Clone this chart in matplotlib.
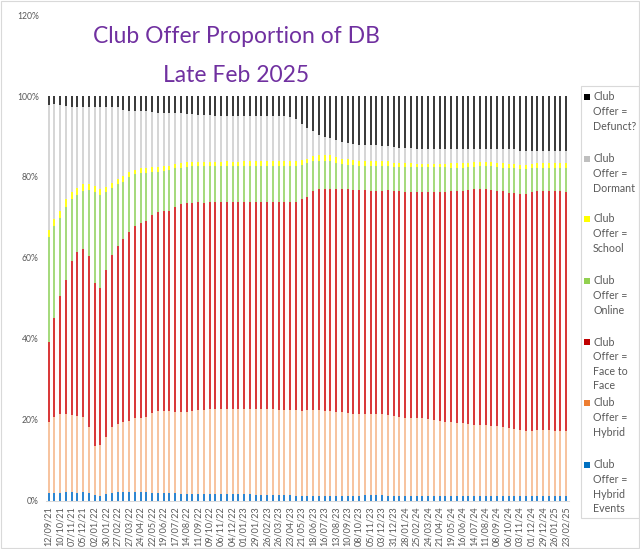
import numpy as np
import matplotlib
matplotlib.use("Agg")
import matplotlib.pyplot as plt
from matplotlib.patches import Rectangle

plt.rcParams['font.family'] = ['Lato', 'DejaVu Sans']

# ---- data (percent of DB per fortnight, 12/09/21 .. 23/02/25) ----
hybrid_events = [1.8, 1.8, 1.9, 2.0, 2.0, 1.9, 2.0, 1.8, 1.4, 1.2, 1.5, 1.9, 2.0, 2.1, 2.1, 2.1, 2.0, 2.0, 1.9, 1.9,
                 1.8, 1.8, 1.8, 1.7, 1.7, 1.7, 1.6, 1.6, 1.6, 1.6, 1.6, 1.5, 1.5, 1.5, 1.5, 1.5, 1.4, 1.4, 1.4, 1.4,
                 1.4, 1.3, 1.3, 1.2, 1.2, 1.2, 1.2, 1.2, 1.2, 1.2, 1.2, 1.2, 1.2, 1.2, 1.2, 1.3, 1.4, 1.4, 1.3, 1.2,
                 1.2, 1.2, 1.2, 1.2, 1.2, 1.1, 1.1, 1.1, 1.1, 1.1, 1.1, 1.1, 1.1, 1.1, 1.0, 1.0, 1.0, 1.0, 1.0, 1.0,
                 1.0, 1.0, 1.0, 1.0, 1.0, 1.0, 1.0, 1.0, 1.0, 1.0, 1.0]
hybrid = [17.5, 18.9, 19.4, 19.4, 19.1, 19.0, 18.7, 16.4, 12.1, 12.5, 14.1, 16.2, 16.9, 17.4, 17.6, 18.2, 18.5, 18.7, 19.8, 20.2,
          20.3, 20.3, 20.0, 20.2, 20.2, 20.4, 20.7, 20.8, 20.9, 21.0, 20.9, 21.0, 21.0, 21.0, 21.0, 21.1, 21.2, 21.2, 21.1, 21.1,
          21.0, 21.1, 21.1, 21.1, 21.0, 21.1, 21.2, 21.1, 21.0, 21.0, 20.8, 20.6, 20.5, 20.3, 20.3, 20.1, 20.0, 19.9, 20.0, 19.9,
          19.7, 19.5, 19.3, 19.3, 19.3, 19.2, 19.0, 18.8, 18.6, 18.4, 18.2, 18.1, 18.0, 17.8, 17.7, 17.7, 17.7, 17.5, 17.3, 17.1,
          16.9, 16.6, 16.5, 16.3, 16.3, 16.4, 16.4, 16.4, 16.3, 16.3, 16.3]
face_to_face = [19.8, 24.5, 29.3, 33.1, 38.2, 40.5, 41.5, 42.3, 40.3, 38.8, 41.4, 42.7, 44.1, 45.1, 46.6, 47.5, 48.0, 48.5, 48.9, 49.3,
                49.5, 49.4, 50.8, 51.3, 51.6, 51.5, 51.4, 51.2, 51.2, 51.1, 51.2, 51.3, 51.2, 51.2, 51.2, 51.1, 51.1, 51.2, 51.3, 51.2,
                51.3, 51.3, 51.4, 51.6, 52.3, 52.7, 54.2, 54.7, 54.9, 54.9, 55.1, 55.1, 55.2, 55.3, 55.3, 55.3, 55.2, 55.3, 55.2, 55.7,
                55.5, 55.7, 55.8, 55.8, 55.8, 56.0, 56.2, 56.4, 56.6, 56.8, 57.1, 57.2, 57.4, 57.9, 58.2, 58.2, 58.3, 58.3, 58.2, 58.3,
                58.2, 58.3, 58.3, 58.4, 58.9, 59.1, 59.1, 59.1, 59.1, 59.1, 58.9]
online = [26.1, 22.7, 19.2, 18.0, 15.2, 14.1, 14.4, 16.3, 22.4, 23.0, 19.2, 16.5, 15.2, 14.2, 13.6, 12.8, 12.4, 11.8, 10.6, 9.9,
          9.9, 10.1, 9.5, 9.1, 9.0, 9.0, 9.0, 9.1, 9.0, 9.0, 9.0, 8.9, 9.0, 9.0, 9.0, 9.0, 9.0, 8.9, 8.9, 9.0,
          9.0, 9.0, 8.9, 8.9, 8.5, 8.5, 7.4, 7.0, 6.9, 6.8, 6.4, 6.3, 6.1, 6.2, 6.0, 6.0, 6.1, 6.2, 6.2, 5.9,
          6.1, 6.1, 6.2, 6.1, 6.1, 6.1, 6.1, 6.1, 6.1, 6.1, 5.9, 5.9, 5.8, 5.6, 5.6, 5.7, 5.6, 5.8, 5.9, 5.9,
          6.1, 6.2, 6.2, 6.3, 6.0, 5.8, 5.8, 5.8, 5.9, 5.9, 6.1]
school = [1.7, 1.6, 1.8, 2.0, 1.8, 1.7, 1.6, 1.4, 1.6, 1.4, 1.4, 1.3, 1.3, 1.4, 1.2, 1.1, 1.2, 1.3, 1.2, 1.2,
          1.2, 1.2, 1.1, 1.2, 1.1, 1.1, 1.1, 1.1, 1.1, 1.1, 1.1, 1.2, 1.1, 1.1, 1.2, 1.2, 1.2, 1.2, 1.2, 1.2,
          1.2, 1.2, 1.2, 1.2, 1.1, 1.0, 1.2, 1.4, 1.4, 1.5, 1.5, 1.2, 1.4, 1.2, 1.2, 1.3, 1.3, 1.2, 1.3, 1.3,
          1.0, 1.0, 0.9, 1.0, 0.8, 0.8, 0.8, 0.8, 0.8, 0.8, 1.1, 1.1, 1.1, 1.1, 1.1, 1.2, 1.2, 1.2, 1.1, 1.1,
          1.1, 1.1, 0.9, 0.9, 1.1, 1.1, 1.1, 1.1, 1.1, 1.1, 1.1]
dormant = [30.9, 28.5, 26.2, 23.0, 20.9, 20.2, 19.2, 19.2, 19.6, 20.3, 19.6, 18.6, 17.7, 16.4, 15.3, 14.7, 14.3, 14.1, 13.7, 13.4,
           13.2, 12.9, 12.5, 12.2, 11.9, 11.8, 11.5, 11.5, 11.5, 11.3, 11.3, 11.2, 11.3, 11.3, 11.2, 11.2, 11.2, 11.2, 11.2, 11.2,
           11.2, 11.2, 10.9, 10.2, 8.9, 7.5, 6.2, 4.9, 4.4, 4.1, 4.1, 4.2, 4.0, 3.9, 3.9, 3.9, 3.9, 3.8, 3.6, 3.6,
           3.8, 3.6, 3.7, 3.7, 3.7, 3.7, 3.7, 3.7, 3.7, 3.7, 3.6, 3.6, 3.6, 3.5, 3.4, 3.2, 3.2, 3.2, 3.5, 3.6,
           3.7, 3.8, 3.5, 3.5, 3.1, 3.0, 3.0, 3.0, 3.1, 3.1, 3.1]
defunct = [2.2, 2.0, 2.2, 2.5, 2.8, 2.6, 2.6, 2.6, 2.6, 2.8, 2.8, 2.8, 2.8, 3.4, 3.6, 3.6, 3.6, 3.6, 3.9, 4.1,
           4.1, 4.3, 4.3, 4.3, 4.5, 4.5, 4.7, 4.7, 4.7, 4.9, 4.9, 4.9, 4.9, 4.9, 4.9, 4.9, 4.9, 4.9, 4.9, 4.9,
           4.9, 4.9, 5.2, 5.8, 7.0, 8.0, 8.6, 9.7, 10.2, 10.5, 10.9, 11.4, 11.6, 11.9, 12.1, 12.1, 12.1, 12.2, 12.4, 12.4,
           12.7, 12.9, 12.9, 12.9, 13.1, 13.1, 13.1, 13.1, 13.1, 13.1, 13.0, 13.0, 13.0, 13.0, 13.0, 13.0, 13.0, 13.0, 13.0, 13.0,
           13.0, 13.0, 13.6, 13.6, 13.6, 13.6, 13.6, 13.6, 13.5, 13.5, 13.5]

tick_labels = ['12/09/21', '10/10/21', '07/11/21', '05/12/21', '02/01/22', '30/01/22', '27/02/22', '27/03/22',
               '24/04/22', '22/05/22', '19/06/22', '17/07/22', '14/08/22', '11/09/22', '09/10/22', '06/11/22',
               '04/12/22', '01/01/23', '29/01/23', '26/02/23', '26/03/23', '23/04/23', '21/05/23', '18/06/23',
               '16/07/23', '13/08/23', '10/09/23', '08/10/23', '05/11/23', '03/12/23', '31/12/23', '28/01/24',
               '25/02/24', '24/03/24', '21/04/24', '19/05/24', '16/06/24', '14/07/24', '11/08/24', '08/09/24',
               '06/10/24', '03/11/24', '01/12/24', '29/12/24', '26/01/25', '23/02/25']

series_names = ['Club Offer = Hybrid Events', 'Club Offer = Hybrid', 'Club Offer = Face to Face',
                'Club Offer = Online', 'Club Offer = School', 'Club Offer = Dormant', 'Club Offer = Defunct?']
legend_labels = ['Club\nOffer =\nHybrid\nEvents', 'Club\nOffer =\nHybrid', 'Club\nOffer =\nFace to\nFace',
                 'Club\nOffer =\nOnline', 'Club\nOffer =\nSchool', 'Club\nOffer =\nDormant', 'Club\nOffer =\nDefunct?']
series_values = [hybrid_events, hybrid, face_to_face, online, school, dormant, defunct]
legend_colors = ['#0070C0', '#ED7D31', '#C00000', '#92D050', '#FFFF00', '#BFBFBF', '#000000']
# thin bars render lighter in the reference
bar_colors = ['#2F86D0', '#F7C4A0', '#D93A3A', '#A6DA7E', '#FFFF20', '#D6D6D6', '#3C3C3C']

W, H = 640, 549
fig = plt.figure(figsize=(W / 100, H / 100), dpi=100)
fx = lambda px: px / W
fy = lambda py: 1 - py / H

ax_l, ax_r, ax_t, ax_b = 45.8, 569.0, 15.1, 500.5
ax = fig.add_axes([fx(ax_l), fy(ax_b), (ax_r - ax_l) / W, (ax_b - ax_t) / H])

n = len(hybrid_events)
x = np.arange(n)
bottom = np.zeros(n)
for vals, c, name in zip(series_values, bar_colors, series_names):
    v = np.array(vals)
    ax.bar(x, v, width=0.34, bottom=bottom, color=c, linewidth=0, label=name)
    bottom += v

ax.set_xlim(-0.5, n - 0.5)
ax.set_ylim(0, 120)
ax.set_yticks(np.arange(0, 121, 20))
ax.set_yticklabels([f'{t}%' for t in range(0, 121, 20)])
ax.set_xticks(x[::2])
ax.set_xticklabels(tick_labels, rotation=90)
ax.tick_params(axis='both', length=0, colors='#595959', labelsize=6.5)
ax.tick_params(axis='y', pad=5, labelsize=6.2)
ax.tick_params(axis='x', pad=4)
for s in ['top', 'right', 'left']:
    ax.spines[s].set_visible(False)
ax.spines['bottom'].set_color('#D9D9D9')
ax.spines['bottom'].set_linewidth(0.75)

# title
fig.text(fx(236), fy(43), 'Club Offer Proportion of DB', ha='center', va='baseline',
         fontsize=16.5, color='#7030A0')
fig.text(fx(236), fy(82), 'Late Feb 2025', ha='center', va='baseline',
         fontsize=16.5, color='#7030A0')

# legend (manual, Excel-like layout)
fig.patches.append(Rectangle((fx(581), fy(518)), fx(639) - fx(581), fy(86) - fy(518),
                             transform=fig.transFigure, facecolor='white', edgecolor='#D9D9D9', lw=0.8))
entry_y = [465, 403, 342, 281, 219, 159, 97]
for lab, c, yy in zip(legend_labels, legend_colors, entry_y):
    fig.patches.append(Rectangle((fx(584), fy(yy + 3)), 6 / W, 6 / H, transform=fig.transFigure,
                                 facecolor=c, edgecolor='none'))
    fig.text(fx(593), fy(yy - 5.5), lab, ha='left', va='top', fontsize=7.7, color='#595959',
             linespacing=1.4)

# outer chart border
fig.patches.append(Rectangle((0.001, 0.001), 0.997, 0.997, transform=fig.transFigure,
                             facecolor='none', edgecolor='#D9D9D9', lw=0.8))

fig.savefig('out.png', dpi=100)
